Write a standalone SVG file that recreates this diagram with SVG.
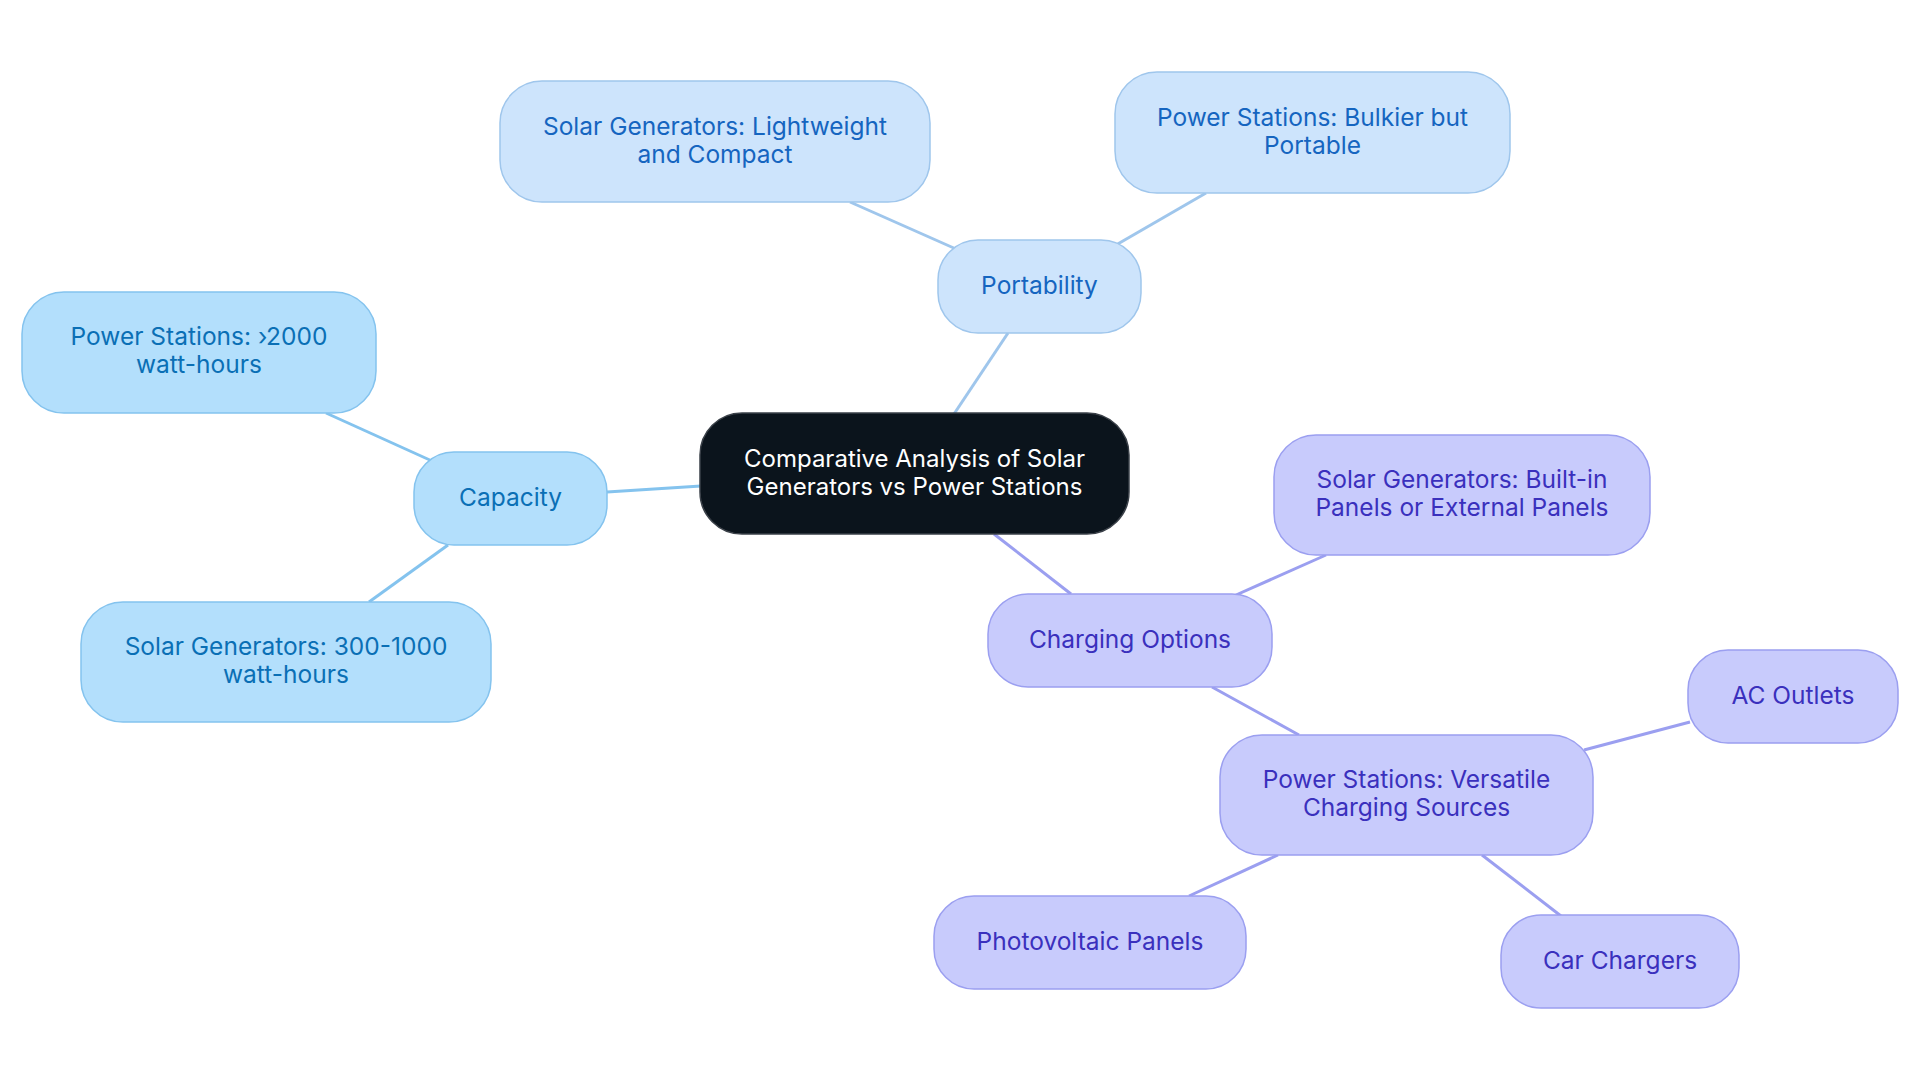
<svg xmlns="http://www.w3.org/2000/svg" width="1920" height="1083" viewBox="0 0 1920 1083">
<style>
text{font-family:Inter,"Noto Sans",sans-serif;font-size:24.5px;text-anchor:middle;dominant-baseline:central}
.cap rect{fill:#b3dffc;stroke:#84c3ee;stroke-width:1.5}
.cap text{fill:#0a6fb5}
.por rect{fill:#cde4fc;stroke:#9fc6ec;stroke-width:1.5}
.por text{fill:#1565c0}
.chg rect{fill:#c8cbfc;stroke:#9b9ff0;stroke-width:1.5}
.chg text{fill:#3a30bd}
.root rect{fill:#0b141c;stroke:#3a4048;stroke-width:1.5}
.root text{fill:#ffffff;font-size:24px}
.e{fill:none;stroke-width:3}
.ec{stroke:#84c3ee}.ep{stroke:#9fc6ec}.eg{stroke:#9b9ff0}
</style>
<rect width="1920" height="1083" fill="#ffffff"/>
<g id="connectors">
<line class="e ec" x1="607" y1="492" x2="701" y2="486"/>
<line class="e ec" x1="326" y1="413" x2="432" y2="461"/>
<line class="e ec" x1="448" y1="545" x2="369" y2="602"/>
<line class="e ep" x1="1008" y1="333" x2="954" y2="414"/>
<line class="e ep" x1="850" y1="202" x2="956" y2="249"/>
<line class="e ep" x1="1206" y1="193" x2="1116" y2="245"/>
<line class="e eg" x1="994" y1="534" x2="1071" y2="594"/>
<line class="e eg" x1="1236" y1="595" x2="1326" y2="555"/>
<line class="e eg" x1="1212" y1="687" x2="1299" y2="735"/>
<line class="e eg" x1="1584" y1="750" x2="1690" y2="722"/>
<line class="e eg" x1="1278" y1="855" x2="1189" y2="896"/>
<line class="e eg" x1="1482" y1="855" x2="1561" y2="916"/>
</g>
<g id="root" class="root"><rect x="700" y="413" width="429" height="121" rx="42"/><text x="914.5" y="458">Comparative Analysis of Solar</text><text x="914.5" y="486">Generators vs Power Stations</text></g>
<g id="capacity" class="cap"><rect x="414" y="452" width="193" height="93" rx="40"/><text x="510.5" y="497">Capacity</text></g>
<g id="cap-ps" class="cap"><rect x="22" y="292" width="354" height="121" rx="42"/><text x="199" y="336">Power Stations: ›2000</text><text x="199" y="364">watt-hours</text></g>
<g id="cap-sg" class="cap"><rect x="81" y="602" width="410" height="120" rx="42"/><text x="286" y="646">Solar Generators: 300-1000</text><text x="286" y="674">watt-hours</text></g>
<g id="portability" class="por"><rect x="938" y="240" width="203" height="93" rx="40"/><text x="1039.5" y="285">Portability</text></g>
<g id="por-sg" class="por"><rect x="500" y="81" width="430" height="121" rx="42"/><text x="715" y="126">Solar Generators: Lightweight</text><text x="715" y="154">and Compact</text></g>
<g id="por-ps" class="por"><rect x="1115" y="72" width="395" height="121" rx="42"/><text x="1312.5" y="117">Power Stations: Bulkier but</text><text x="1312.5" y="145">Portable</text></g>
<g id="charging" class="chg"><rect x="988" y="594" width="284" height="93" rx="40"/><text x="1130" y="639">Charging Options</text></g>
<g id="chg-sg" class="chg"><rect x="1274" y="435" width="376" height="120" rx="42"/><text x="1462" y="479">Solar Generators: Built-in</text><text x="1462" y="507">Panels or External Panels</text></g>
<g id="chg-ps" class="chg"><rect x="1220" y="735" width="373" height="120" rx="42"/><text x="1406.5" y="779">Power Stations: Versatile</text><text x="1406.5" y="807">Charging Sources</text></g>
<g id="ac" class="chg"><rect x="1688" y="650" width="210" height="93" rx="40"/><text x="1793" y="695">AC Outlets</text></g>
<g id="pv" class="chg"><rect x="934" y="896" width="312" height="93" rx="40"/><text x="1090" y="941">Photovoltaic Panels</text></g>
<g id="car" class="chg"><rect x="1501" y="915" width="238" height="93" rx="40"/><text x="1620" y="960">Car Chargers</text></g>
</svg>
